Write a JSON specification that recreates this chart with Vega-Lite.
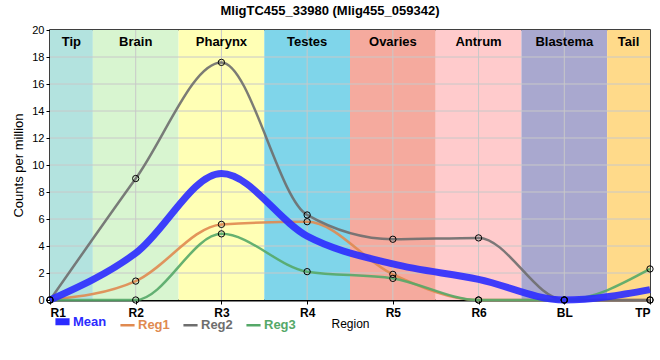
{
  "$schema": "https://vega.github.io/schema/vega-lite/v6.json",
  "width": 600,
  "height": 270,
  "autosize": {"type": "none"},
  "padding": {"left": 50, "top": 30, "right": 10, "bottom": 60},
  "title": {"text": "MligTC455_33980 (Mlig455_059342)", "fontSize": 13, "fontWeight": "bold", "font": "Liberation Sans", "anchor": "middle", "offset": 6, "dx": -20, "color": "black"},
  "config": {
    "font": "Liberation Sans",
    "view": {"stroke": "black", "strokeWidth": 1.5},
    "axis": {"labelColor": "black", "titleColor": "black", "tickColor": "black", "domainColor": "black", "grid": false},
    "axisY": {"values": [0, 2, 4, 6, 8, 10, 12, 14, 16, 18, 20], "labelOverlap": false, "labelSeparation": -4, "labelFontSize": 11, "tickSize": 4, "titleFontWeight": "normal", "titleFontSize": 13, "titlePadding": 6}
  },
  "datasets": {
    "bands": [
      {"band": "Tip", "start": 0, "end": 0.5},
      {"band": "Brain", "start": 0.5, "end": 1.5},
      {"band": "Pharynx", "start": 1.5, "end": 2.5},
      {"band": "Testes", "start": 2.5, "end": 3.5},
      {"band": "Ovaries", "start": 3.5, "end": 4.5},
      {"band": "Antrum", "start": 4.5, "end": 5.5},
      {"band": "Blastema", "start": 5.5, "end": 6.5},
      {"band": "Tail", "start": 6.5, "end": 7}
    ],
    "xgrid": [{"v": 1}, {"v": 2}, {"v": 3}, {"v": 4}, {"v": 5}, {"v": 6}],
    "ygrid": [{"v": 2}, {"v": 4}, {"v": 6}, {"v": 8}, {"v": 10}, {"v": 12}, {"v": 14}, {"v": 16}, {"v": 18}],
    "expr": [
      {"region": "R1", "pos": 0, "series": "Mean", "cpm": 0},
      {"region": "R2", "pos": 1, "series": "Mean", "cpm": 3.47},
      {"region": "R3", "pos": 2, "series": "Mean", "cpm": 9.37},
      {"region": "R4", "pos": 3, "series": "Mean", "cpm": 4.73},
      {"region": "R5", "pos": 4, "series": "Mean", "cpm": 2.67},
      {"region": "R6", "pos": 5, "series": "Mean", "cpm": 1.53},
      {"region": "BL", "pos": 6, "series": "Mean", "cpm": 0},
      {"region": "TP", "pos": 7, "series": "Mean", "cpm": 0.77},
      {"region": "R1", "pos": 0, "series": "Reg1", "cpm": 0},
      {"region": "R2", "pos": 1, "series": "Reg1", "cpm": 1.4},
      {"region": "R3", "pos": 2, "series": "Reg1", "cpm": 5.6},
      {"region": "R4", "pos": 3, "series": "Reg1", "cpm": 5.8},
      {"region": "R5", "pos": 4, "series": "Reg1", "cpm": 1.9},
      {"region": "R6", "pos": 5, "series": "Reg1", "cpm": 0},
      {"region": "BL", "pos": 6, "series": "Reg1", "cpm": 0},
      {"region": "TP", "pos": 7, "series": "Reg1", "cpm": 0},
      {"region": "R1", "pos": 0, "series": "Reg2", "cpm": 0},
      {"region": "R2", "pos": 1, "series": "Reg2", "cpm": 9.0},
      {"region": "R3", "pos": 2, "series": "Reg2", "cpm": 17.6},
      {"region": "R4", "pos": 3, "series": "Reg2", "cpm": 6.3},
      {"region": "R5", "pos": 4, "series": "Reg2", "cpm": 4.5},
      {"region": "R6", "pos": 5, "series": "Reg2", "cpm": 4.6},
      {"region": "BL", "pos": 6, "series": "Reg2", "cpm": 0},
      {"region": "TP", "pos": 7, "series": "Reg2", "cpm": 0},
      {"region": "R1", "pos": 0, "series": "Reg3", "cpm": 0},
      {"region": "R2", "pos": 1, "series": "Reg3", "cpm": 0},
      {"region": "R3", "pos": 2, "series": "Reg3", "cpm": 4.9},
      {"region": "R4", "pos": 3, "series": "Reg3", "cpm": 2.1},
      {"region": "R5", "pos": 4, "series": "Reg3", "cpm": 1.6},
      {"region": "R6", "pos": 5, "series": "Reg3", "cpm": 0},
      {"region": "BL", "pos": 6, "series": "Reg3", "cpm": 0},
      {"region": "TP", "pos": 7, "series": "Reg3", "cpm": 2.3}
    ]
  },
  "layer": [
    {
      "data": {"name": "bands"},
      "mark": {"type": "rect"},
      "encoding": {
        "x": {"field": "start", "type": "quantitative", "scale": {"domain": [0, 7], "nice": false, "zero": false},
          "axis": {"values": [0, 1, 2, 3, 4, 5, 6, 7], "labelExpr": "['R1','R2','R3','R4','R5','R6','BL','TP'][datum.value]", "labelFontWeight": "bold", "labelFontSize": 12, "labelPadding": 3, "tickSize": 4, "domainWidth": 2, "title": "Region", "titleFontWeight": "normal", "titleFontSize": 12, "titlePadding": 0}},
        "x2": {"field": "end"},
        "fill": {"field": "band", "type": "nominal", "legend": null,
          "scale": {"domain": ["Tip", "Brain", "Pharynx", "Testes", "Ovaries", "Antrum", "Blastema", "Tail"],
            "range": ["#b3e3df", "#d8f5d0", "#ffffb5", "#7fd5ea", "#f5aa9e", "#ffcbcc", "#a9a8cf", "#ffda8a"]}}
      }
    },
    {
      "data": {"name": "xgrid"},
      "mark": {"type": "rule", "color": "#c8c8c8", "strokeWidth": 1},
      "encoding": {"x": {"field": "v", "type": "quantitative"}}
    },
    {
      "data": {"name": "ygrid"},
      "mark": {"type": "rule", "color": "#c8c8c8", "strokeWidth": 1},
      "encoding": {"y": {"field": "v", "type": "quantitative", "scale": {"domain": [0, 20], "nice": false},
          "axis": {"values": [0, 2, 4, 6, 8, 10, 12, 14, 16, 18, 20], "labelOverlap": false, "title": "Counts per million"}}}
    },
    {
      "data": {"name": "bands"},
      "transform": [{"calculate": "(datum.start + datum.end) / 2", "as": "mid"}],
      "mark": {"type": "text", "fontSize": 13, "fontWeight": "bold", "color": "black", "baseline": "middle"},
      "encoding": {
        "x": {"field": "mid", "type": "quantitative"},
        "y": {"datum": 19.1, "type": "quantitative", "axis": {"values": [0, 2, 4, 6, 8, 10, 12, 14, 16, 18, 20], "labelOverlap": false, "title": "Counts per million"}},
        "text": {"field": "band"}
      }
    },
    {
      "mark": {"type": "rule", "color": "black", "strokeWidth": 2, "strokeDash": [5, 3]},
      "encoding": {"x": {"datum": 6.5, "type": "quantitative"}}
    },
    {
      "data": {"name": "expr"},
      "transform": [{"filter": "datum.series != 'Mean'"}],
      "mark": {"type": "line", "interpolate": "monotone", "strokeOpacity": 0.9, "strokeWidth": 2.5},
      "encoding": {
        "x": {"field": "pos", "type": "quantitative"},
        "y": {"field": "cpm", "type": "quantitative", "axis": {"values": [0, 2, 4, 6, 8, 10, 12, 14, 16, 18, 20], "labelOverlap": false, "title": "Counts per million"}},
        "color": {"field": "series", "type": "nominal", "title": null,
          "scale": {"domain": ["Mean", "Reg1", "Reg2", "Reg3"], "range": ["#2b2bff", "#e08a50", "#6e6e6e", "#55a868"]},
          "legend": {"orient": "none", "legendX": 6, "legendY": 285, "direction": "horizontal", "symbolType": "stroke", "symbolSize": 200, "labelFontSize": 13, "labelFontWeight": "bold", "columnPadding": 8, "labelOffset": 4,
            "encode": {"labels": {"update": {"fill": {"scale": "color", "field": "value"}}},
                       "symbols": {"update": {"strokeWidth": {"signal": "datum.value == 'Mean' ? 7 : 2.5"}}}}}}
      }
    },
    {
      "data": {"name": "expr"},
      "transform": [{"filter": "datum.series == 'Mean'"}],
      "mark": {"type": "line", "interpolate": "monotone", "strokeOpacity": 0.9, "strokeWidth": 7},
      "encoding": {
        "x": {"field": "pos", "type": "quantitative"},
        "y": {"field": "cpm", "type": "quantitative", "axis": {"values": [0, 2, 4, 6, 8, 10, 12, 14, 16, 18, 20], "labelOverlap": false, "title": "Counts per million"}},
        "color": {"field": "series", "type": "nominal", "title": null}
      }
    },
    {
      "data": {"name": "expr"},
      "transform": [{"filter": "datum.series != 'Mean'"}],
      "mark": {"type": "point", "shape": "circle", "filled": false, "stroke": "black", "strokeWidth": 1, "size": 40, "opacity": 1},
      "encoding": {
        "x": {"field": "pos", "type": "quantitative"},
        "y": {"field": "cpm", "type": "quantitative", "axis": {"values": [0, 2, 4, 6, 8, 10, 12, 14, 16, 18, 20], "labelOverlap": false, "title": "Counts per million"}}
      }
    }
  ]
}
